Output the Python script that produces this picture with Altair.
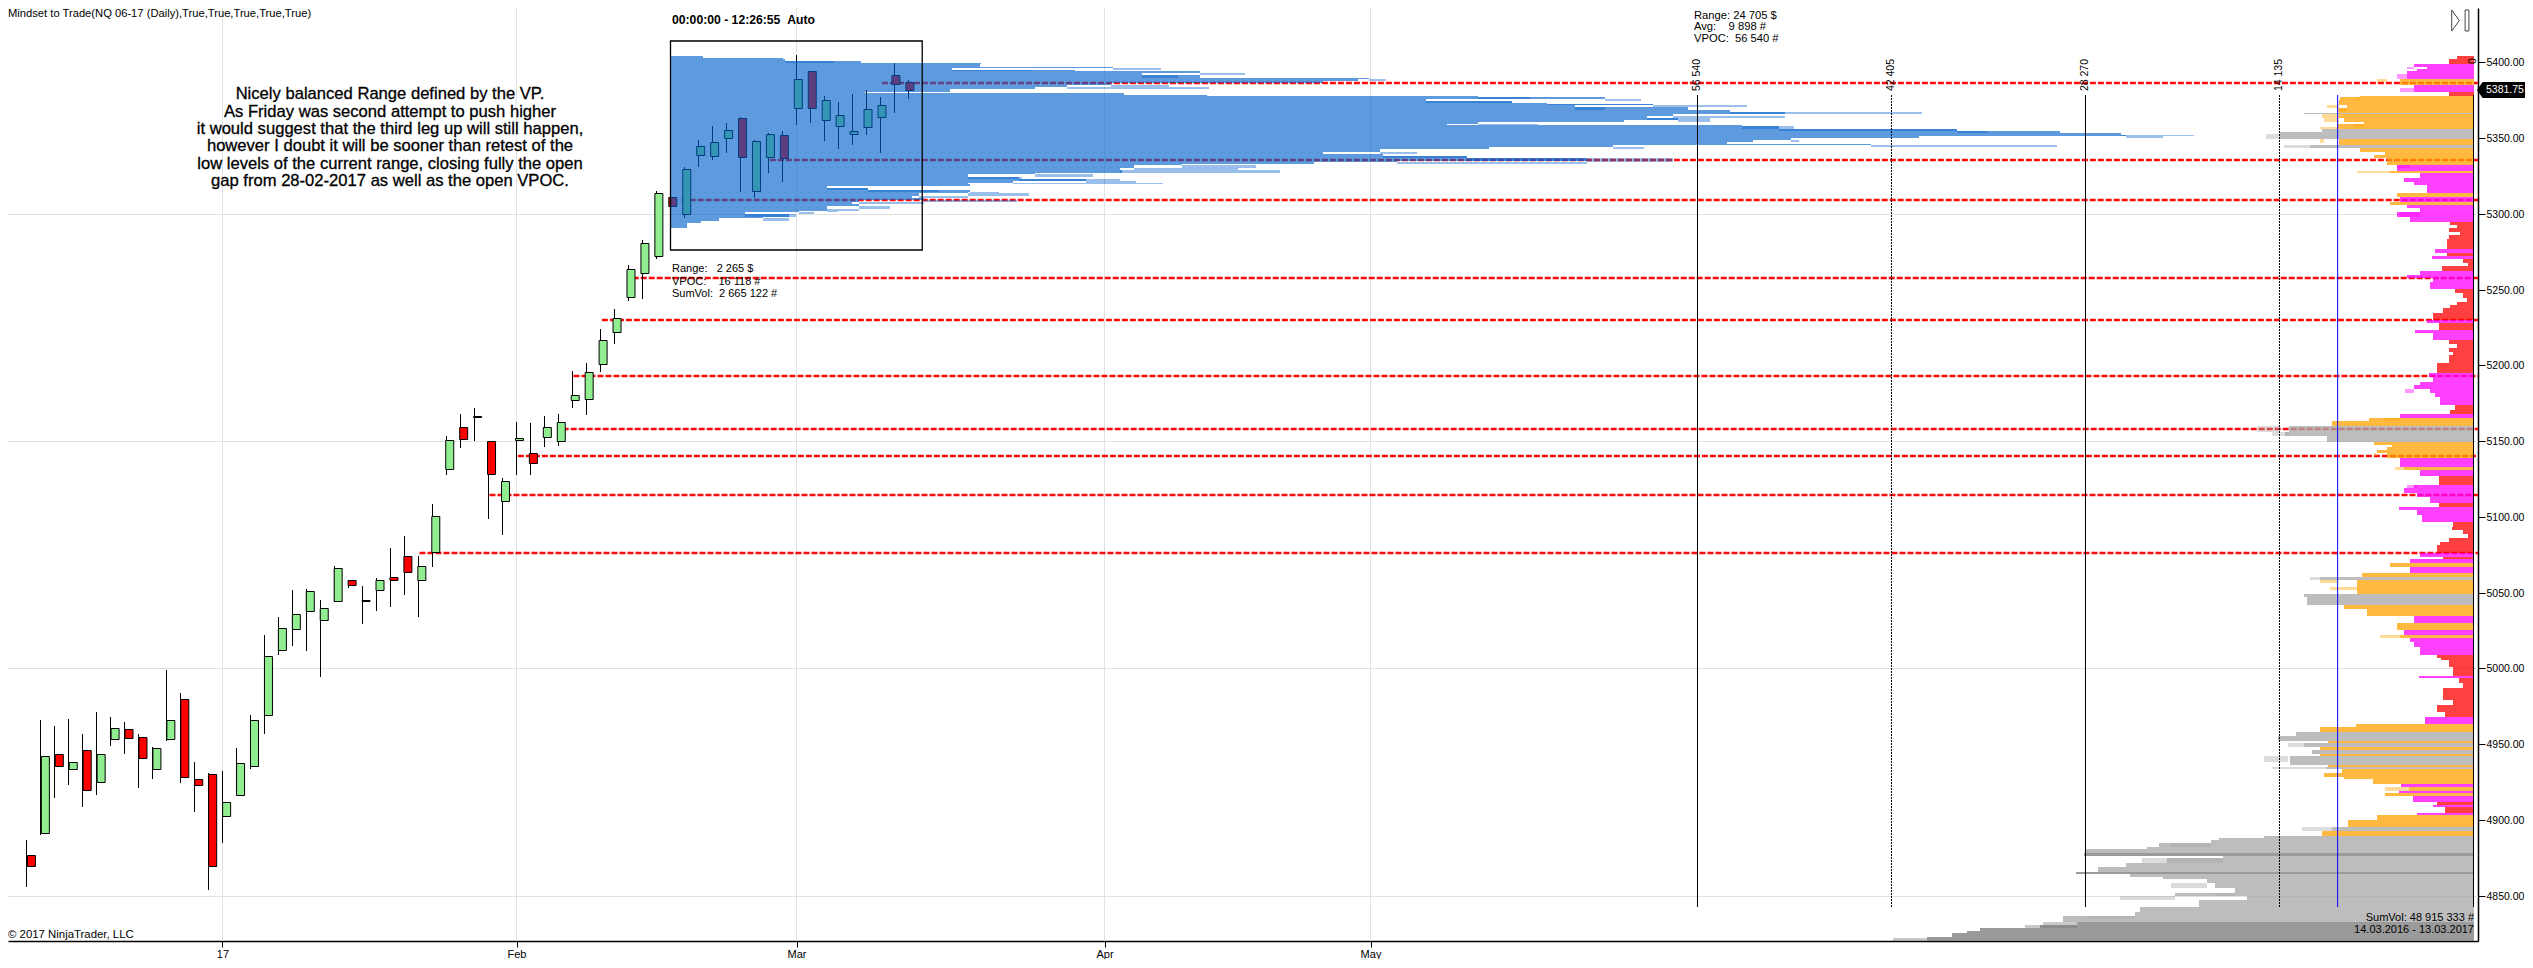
import altair as alt
import pandas as pd

# ---------- daily candles ----------
opens = [4876.5,4891.5,4943.25,4933.75,4946,4925.25,4953.5,4959.75,4955,4933.75,
         4953.5,4979.5,4926.75,4930,4902.25,4916.25,4935.75,4969.5,5012,5025.75,
         5037.75,5031.75,5044.75,5058,5044.25,5051.5,5060,5074,5058,5076.5,
         5131.5,5159,5166,5149.75,5110.25,5151,5142.25,5152.5,5149.75,5177,
         5177.5,5200.75,5221.75,5245,5260.75,5272.5,5311,5299.75,5338.75,5338,
         5350,5363,5315,5337.5,5352,5369.75,5394,5361.75,5357.75,5353,
         5357.25,5363.75,5392,5386.75]
highs = [4887,4966,4962,4966.5,4956.75,4971.25,4968,4964.5,4957,4948,
         4999,4983.75,4938.25,4930.75,4932.25,4947.5,4969.25,5022,5034,5051.75,
         5052.5,5045,5067.5,5058.25,5054.25,5059.5,5079.5,5087.25,5074,5108.5,
         5153.25,5168,5171.75,5149.75,5125.5,5162.75,5162,5166.5,5168,5196.25,
         5201.25,5223.75,5237.25,5266.25,5282.75,5315,5311.5,5330.75,5348.75,5358,
         5359.75,5363.75,5348.5,5353.25,5354.75,5405,5394,5377.75,5374,5379.25,
         5381.75,5377.25,5399.5,5388.25]
lows = [4856,4890,4914.75,4923,4908.75,4916.5,4948.75,4943.5,4921,4927,
        4952,4924.25,4905.25,4853.75,4885,4916.25,4933.75,4956.75,5008.75,5014.75,
        5011.5,4994.25,5043.75,5053,5029.25,5037.75,5040.5,5048.5,5034,5067,
        5127.75,5145.5,5150.25,5098.5,5087.75,5127.75,5127.75,5146,5146.75,5171.75,
        5167.25,5195.75,5214.25,5242.5,5243.75,5270.5,5305.25,5297.5,5331,5335.5,
        5340.25,5314.75,5310.5,5327,5321.25,5358.75,5360.25,5348,5343,5345.5,
        5352,5340.25,5366.75,5376]
closes = [4869.75,4942,4935.75,4938,4920,4943.25,4960.5,4954.25,4940.5,4947.25,
          4965.75,4928.5,4923.25,4869.75,4911.5,4937.25,4965.75,5008,5026.5,5035.75,
          5050.75,5039.75,5066,5054.75,5045,5058,5058,5063.5,5067.25,5100.25,
          5150.5,5151.25,5166.75,5128,5123.5,5151.75,5135.25,5159,5162.5,5180.25,
          5195.5,5216.5,5231,5263.5,5280.5,5313.5,5305.5,5329.5,5344.5,5347.25,
          5355.25,5337.5,5348,5352.5,5336.75,5388.75,5369.75,5375.5,5365,5354.5,
          5369,5371.75,5385.5,5381.75]

# ---------- open levels (dashed) ----------
level_price = [5386.25,5335.5,5309,5258,5229.75,5192.75,5157.75,5140,5114.25,5076]
level_start = [61.1,53.1,46.8,43.3,41.1,39.07,38.3,35.1,33.07,28.07]
level_end = 175.1

# ---------- composite profile at the right ----------
right_price = [5404.2,5402.0,5400.5,5399.0,5397.2,5395.4,5394.1,5392.4,5390.6,5389.0,
 5387.3,5385.1,5382.9,5380.7,5377.8,5376.9,5375.2,5371.9,5369.7,5367.5,
 5366.8,5365.9,5363.1,5360.9,5359.3,5357.6,5355.8,5354.3,5352.8,5349.2,
 5346.6,5345.3,5343.7,5341.1,5338.9,5336.7,5334.5,5332.3,5330.1,5328.3,
 5326.8,5323.5,5321.3,5319.1,5315.8,5313.6,5311.4,5309.2,5307.9,5305.9,
 5303.7,5301.5,5298.2,5296.4,5294.9,5292.7,5290.5,5288.3,5286.1,5283.2,
 5279.5,5276.6,5274.4,5272.2,5270.0,5267.4,5265.8,5264.1,5262.5,5259.7,
 5257.5,5255.3,5252.0,5250.2,5247.6,5244.3,5242.1,5239.9,5237.7,5234.4,
 5232.2,5230.0,5227.8,5224.5,5223.4,5221.2,5219.0,5216.8,5214.1,5211.3,
 5209.1,5206.9,5204.7,5201.4,5198.1,5194.8,5192.1,5189.3,5187.1,5184.2,
 5181.6,5179.4,5177.2,5173.9,5170.6,5168.4,5167.7,5165.5,5163.5,5161.8,
 5160.2,5156.3,5153.4,5151.2,5149.7,5147.5,5146.4,5144.2,5142.0,5140.2,
 5138.7,5135.4,5133.2,5131.0,5128.8,5127.0,5124.4,5121.1,5118.9,5115.6,
 5113.4,5111.2,5109.0,5106.8,5104.6,5101.3,5099.1,5096.9,5093.6,5091.4,
 5088.7,5085.9,5083.7,5081.5,5078.2,5076.4,5073.8,5072.0,5069.4,5067.2,
 5065.0,5062.8,5060.6,5058.4,5056.2,5054.0,5051.8,5048.9,5047.4,5044.1,
 5041.9,5039.0,5036.4,5034.6,5032.0,5029.8,5027.6,5025.4,5022.1,5019.9,
 5017.7,5014.4,5011.1,5008.9,5006.7,5005.5,5000.7,4997.8,4995.0,4993.6,
 4990.1,4986.8,4982.4,4979.1,4975.8,4971.4,4969.2,4967.7,4964.8,4963.1,
 4961.1,4959.3,4957.8,4955.4,4953.8,4952.3,4950.5,4948.3,4946.1,4943.5,
 4942.2,4938.4,4936.2,4934.7,4933.6,4930.7,4928.5,4926.8,4925.2,4923.5,
 4921.5,4919.3,4918.0,4915.8,4914.2,4912.0,4909.8,4908.3,4906.1,4904.3,
 4903.2,4899.9,4897.7,4895.1,4892.9,4891.1,4889.6,4887.8,4886.7,4884.5,
 4882.3,4880.6,4879.2,4877.9,4876.4,4874.6,4871.8,4869.1,4866.5,4865.4,
 4864.3,4862.5,4860.8,4858.1,4854.8,4852.0,4849.8,4847.1,4844.9,4842.3,
 4839.4,4836.7,4834.5,4832.3,4830.5,4828.4,4826.6,4825.0,4822.8,4821.7]
right_vol = [365,1215,1820,2920,4370,3400,4130,4860,4860,6320,
 5350,5100,4370,1820,5350,8260,9720,9840,9230,9840,
 12390,9840,9840,9480,8020,9960,12880,11060,14090,10940,
 9840,11910,9720,8260,6440,7290,6320,4620,5590,6080,
 4500,3890,5100,4370,3400,5590,4980,5350,6080,5350,
 4860,3890,5590,4620,2550,1700,1215,1820,970,1820,
 1940,2790,1940,3040,1940,730,365,2310,4250,3890,
 4860,2920,3160,1940,1340,730,490,1215,1700,2190,
 2920,3400,2310,2550,3160,4250,2920,2920,1820,1215,
 1820,1460,1820,1820,2670,5100,3280,2920,3890,4370,
 3160,2790,2430,2070,1340,1700,5350,5350,7650,10330,
 14090,13490,13730,10690,7780,7290,5950,6320,7050,6320,
 5470,5350,5100,5100,3890,1215,2550,4130,4370,5100,
 4130,3160,2550,3400,5470,4130,3770,2790,1460,1580,
 730,365,1820,2430,2670,3890,2190,4620,6080,5590,
 4620,8140,11180,9960,8500,8500,8500,11540,12390,12150,
 7290,9480,7780,5100,4370,5950,5590,5100,5350,5350,
 4620,4370,3890,2550,2670,2360,1770,1470,3980,1470,
 1030,740,2210,2210,1470,2650,2060,4270,3530,6480,
 8540,11190,11780,12960,14280,10600,12370,11190,11780,11190,
 13550,13400,10600,10750,10600,9570,10900,9420,7360,5300,
 4710,5450,6480,4710,4420,2650,2950,1910,2060,4120,
 7360,7070,9130,10310,10310,11040,13840,15310,18550,19140,
 22970,23850,28270,28420,25330,18260,22380,25330,27390,29000,
 27680,25030,22680,19440,18850,17370,21790,16490,20030,20030,
 24320,24690,29940,28920,28920,31620,36000,36950,38040,39860]
right_tip = [0,0,0,0,4860,0,0,5590,5590,7050,
 0,0,5350,0,0,8500,9840,10690,9960,0,
 0,11060,10940,0,8750,11180,0,0,15140,11180,
 0,13850,0,0,0,0,0,5590,0,8500,
 0,0,0,0,0,0,0,0,0,0,
 0,5350,0,0,0,0,0,0,0,0,
 0,0,0,0,0,0,0,0,0,0,
 0,0,0,0,0,0,0,0,0,0,
 0,0,0,0,0,0,0,0,0,0,
 0,0,0,0,0,0,0,0,0,4980,
 0,0,0,0,0,0,0,6440,0,0,
 15800,14700,0,0,0,0,0,0,7290,0,
 0,0,5710,0,0,0,0,4860,0,0,
 0,0,0,0,0,0,0,0,0,0,
 0,0,0,0,0,0,0,0,0,0,
 0,0,11910,11180,0,10450,0,0,0,0,
 0,0,0,0,0,0,0,0,6800,0,
 0,0,0,0,0,0,0,0,0,0,
 0,0,0,0,0,0,0,0,0,0,
 0,0,0,0,0,0,13550,0,0,0,
 15310,0,0,14725,0,0,0,0,0,0,
 6480,0,0,0,0,0,0,0,0,0,
 0,0,0,12520,0,0,0,0,0,22090,
 0,0,0,0,0,24150,0,0,0,0,
 0,0,0,22090,0,18850,25770,0,0,0,
 0,28190,0,31400,32710,0,0,0,0,42340]
right_kind = list("rrrmmmmmmo" "ommroooooo" "gooooogggo" "ogooooommo" "mmmmmommom"
                  "mmmmrrrrrr" "rmrmrrrrmm" "mmmrrrrrrr" "rmrrmmmrrr" "rrrrrmmmmm"
                  "mmmrrrmooo" "ggggoooooo" "mmommrrmmm" "mmrmmmmrrr" "rrrrrmrmom"
                  "mogooooggg" "ooommoomom" "mmmrrrrrmr" "rrrrrrrmmo" "oogggogogo"
                  "ggogooooom" "omommrmrrm" "ooogoogggg" "gggdgggggd" "gggggggggg"
                  "gggddddddd")

# ---------- session profile inside the box ----------
blue_price = [5404.2,5402.7,5402.0,5400.7,5399.4,5398.7,5397.2,5396.5,5395.2,5394.3,
 5392.8,5391.5,5389.9,5389.3,5387.7,5386.6,5385.3,5384.0,5382.2,5380.7,
 5380.0,5378.5,5377.8,5376.9,5375.6,5374.3,5373.4,5372.6,5371.7,5370.4,
 5368.6,5367.3,5365.9,5364.6,5363.3,5362.0,5360.7,5359.6,5358.5,5358.0,
 5356.0,5354.7,5353.4,5352.3,5351.4,5349.9,5348.8,5347.7,5346.4,5345.7,
 5344.2,5342.8,5341.1,5339.5,5338.4,5336.7,5335.1,5334.0,5332.9,5332.3,
 5330.5,5329.0,5327.2,5326.3,5324.6,5322.8,5321.7,5320.6,5319.5,5318.4,
 5316.9,5315.8,5314.7,5313.6,5312.0,5310.5,5309.2,5307.9,5306.6,5305.2,
 5303.5,5302.1,5301.0,5299.7,5298.2,5297.1,5295.5,5294.2,5292.7]
blue_vol = [430,340,1190,1210,2015,3280,3270,4680,2980,4280,
 5600,4990,5600,7390,7270,6900,4660,4190,3860,2960,
 2060,4800,5670,8540,9880,7990,8900,9270,10390,9570,
 10760,11210,11790,10600,10330,10660,10090,8540,8210,11330,
 11730,13610,14700,15340,15400,13210,11850,11450,11180,12700,
 9970,8660,7510,6900,7540,8420,9690,7690,6810,5410,
 4900,4750,4780,3860,3150,3690,4400,3620,3150,3170,
 1660,2090,3170,3150,2630,2560,2680,1990,1920,1990,
 1660,1660,1360,790,1250,980,510,320,180]
blue_tip = [0,0,0,1730,0,0,0,5190,3830,0,
 6075,5370,0,7570,0,0,5270,5700,0,0,
 0,0,0,9090,10270,8900,0,10390,11390,9880,
 0,13240,0,11790,11000,11000,0,9180,0,11880,
 13610,13940,0,16118,15790,0,11940,0,0,14670,
 10300,0,7900,0,8420,10600,10600,9690,0,6190,
 6000,6450,0,4470,3720,4750,4920,5210,0,0,
 2090,2840,3480,3790,3150,0,3670,2680,0,2320,
 1990,1770,1520,1330,0,1250,0,0,0]

# ---------- reference levels of the composite profile ----------
vline_vol = [56540,42405,28270,14135,0]
vline_text = ["56 540","42 405","28 270","14 135","0"]
vline_dash = ["solid","dash","solid","dash","solid"]
avg_vol = 9898

grid_x = [14,35,55,77,96]
grid_x_labels = ["17","Feb","Mar","Apr","May"]
grid_y = [5300,5150,5000,4850]
ticks_y = [5400,5350,5300,5250,5200,5150,5100,5050,5000,4950,4900,4850]

note_lines = ["Nicely balanced Range defined by the VP.",
              "As Friday was second attempt to push higher",
              "it would suggest that the third leg up will still happen,",
              "however I doubt it will be sooner than retest of the",
              "low levels of the current range, closing fully the open",
              "gap from 28-02-2017 as well as the open VPOC."]
box_lines = ["Range:\u00a0\u00a0\u00a02 265 $","VPOC:\u00a0\u00a0\u00a0\u00a016 118 #","SumVol:\u00a0\u00a02 665 122 #"]
top_lines = ["Range: 24 705 $","Avg:\u00a0\u00a0\u00a0\u00a09 898 #","VPOC:\u00a0\u00a056 540 #"]
sum_lines = ["SumVol: 48 915 333 #","14.03.2016 - 13.03.2017"]

# ---------- sizes ----------
W, H = 2470, 933
FONT = "Liberation Sans"
Y_SCALE = alt.Scale(domain=[4820.03, 5435.9], nice=False, zero=False, round=True)
IDX = alt.Scale(domain=[-1.3214, 175.107], nice=False, zero=False)
RVOL = alt.Scale(domain=[179832, -328], nice=False, zero=False, round=True)
RLINE = alt.Scale(domain=[179638, -327.9], nice=False, zero=False)
BVOL = alt.Scale(domain=[-7006, 19118], nice=False, zero=False, round=True)
Y_AXIS = alt.Axis(orient="right", values=ticks_y, format=".2f", grid=False, title=None, domainColor="#000000",
                  domainWidth=1.5, tickColor="#000000", tickSize=7, labelFont=FONT, labelFontSize=10.5,
                  labelColor="#000000", labelPadding=1)

# ---------- tables ----------
candles = pd.DataFrame({"i": range(len(opens)), "o": opens, "h": highs, "l": lows, "c": closes})
candles["dir"] = ["up" if c >= o else "down" for o, c in zip(opens, closes)]

right = pd.DataFrame({"top": right_price, "vol": right_vol, "tip": right_tip, "kind": right_kind})
right["bot"] = right_price[1:] + [4820.03]
blue = pd.DataFrame({"top": blue_price, "vol": blue_vol, "tip": blue_tip})
blue["bot"] = blue_price[1:] + [5291.0]

# profile outlines: one shape per run of rows of the same colour, so no seams appear between rows
blue_shape = pd.DataFrame({"p": blue_price + [5291.0], "vol": blue_vol + [blue_vol[-1]], "zero": 0})
shape_rows = []
run = 0
for k in range(len(right_price)):
    if k and right_kind[k] != right_kind[k - 1]:
        run += 1
    shape_rows.append({"p": right_price[k], "vol": right_vol[k], "kind": right_kind[k], "run": run, "zero": 0})
    if k == len(right_price) - 1 or right_kind[k + 1] != right_kind[k]:
        shape_rows.append({"p": right["bot"].iloc[k], "vol": right_vol[k], "kind": right_kind[k], "run": run, "zero": 0})
right_shape = pd.DataFrame(shape_rows)

levels = pd.DataFrame({"p": level_price, "s": level_start, "e": [level_end] * len(level_price)})
vlines = pd.DataFrame({"v": vline_vol, "t": vline_text, "d": vline_dash,
                       "top": [5378.5] * 5, "bot": [4842.7] * 5, "lab": [5393.3] * 4 + [5402.4]})

KINDS = ["r", "m", "o", "g", "d"]
KCOL = ["#ff0000", "#ff00ff", "#ffa200", "#a7a7a7", "#787878"]
kscale = alt.Scale(domain=KINDS, range=KCOL)

def ychan(f):
    return alt.Y(f, type="quantitative", scale=Y_SCALE, axis=Y_AXIS, title=None)

def ptext(text, x, y, size, align="left", weight="normal", color="#000000", stroke=0):
    kw = dict(stroke=color, strokeWidth=stroke) if stroke else {}
    return alt.Chart(pd.DataFrame({"t": [text]})).mark_text(
        align=align, baseline="middle", font=FONT, fontSize=size, fontWeight=weight, color=color, **kw
    ).encode(x=alt.value(x - 8), y=alt.value(y - 8), text="t:N")

labexpr = "".join(f"datum.value=={v}?'{t}':" for v, t in zip(grid_x, grid_x_labels)) + "''"

grid_v = alt.Chart(pd.DataFrame({"x": grid_x})).mark_rule(color="#e2e2e2", strokeWidth=1).encode(
    x=alt.X("x:Q", scale=IDX, title=None,
            axis=alt.Axis(values=grid_x, labelExpr=labexpr, grid=False, title=None, domainColor="#000000",
                          domainWidth=1.5, tickColor="#000000", tickSize=6, labelFont=FONT, labelFontSize=11,
                          labelColor="#000000", labelPadding=1, labelFlush=False)))
grid_h = alt.Chart(pd.DataFrame({"y": grid_y})).mark_rule(color="#e2e2e2", strokeWidth=1, yOffset=0.5).encode(
    y=ychan("y"))

level_rule = alt.Chart(levels).mark_rule(color="#ff0a0a", strokeWidth=2.5, strokeDash=[6, 2]).encode(
    x=alt.X("s:Q", scale=IDX, axis=None), x2="e:Q", y=ychan("p"))

wicks = alt.Chart(candles).mark_rule(color="#000000", strokeWidth=1).encode(
    x=alt.X("i:Q", scale=IDX, axis=None), y=ychan("l"), y2="h:Q")
bodies = alt.Chart(candles).mark_bar(size=8, stroke="#000000", strokeWidth=1, orient="vertical",
                                     yOffset=0.5, y2Offset=0.5).encode(
    x=alt.X("i:Q", scale=IDX, axis=None), y=ychan("o"), y2="c:Q",
    color=alt.Color("dir:N", legend=None, scale=alt.Scale(domain=["up", "down"], range=["#90ee90", "#ff0000"])))

blue_main = alt.Chart(blue_shape).mark_area(color="#0060cb", opacity=0.63, orient="horizontal",
                                            interpolate="step-after").encode(
    x=alt.X("vol:Q", scale=BVOL, axis=None, stack=None), x2="zero:Q", y=ychan("p"))
blue_tips = alt.Chart(blue[blue.tip > 0]).mark_rect(color="#0060cb", opacity=0.4).encode(
    x=alt.X("vol:Q", scale=BVOL, axis=None), x2="tip:Q", y=ychan("top"), y2="bot:Q")

box = alt.Chart(pd.DataFrame({"a": [46.0], "b": [63.98], "t": [5414.35], "u": [5276.17]})).mark_rect(
    fillOpacity=0, stroke="#000000", strokeWidth=1.3).encode(
    x=alt.X("a:Q", scale=IDX, axis=None), x2="b:Q", y=ychan("t"), y2="u:Q")

right_main = alt.Chart(right_shape).mark_area(opacity=0.75, orient="horizontal", interpolate="step-after").encode(
    x=alt.X("vol:Q", scale=RVOL, axis=None, stack=None), x2="zero:Q", y=ychan("p"),
    color=alt.Color("kind:N", scale=kscale, legend=None), detail="run:N")
right_tips = alt.Chart(right[right.tip > 0]).mark_rect(opacity=0.4).encode(
    x=alt.X("vol:Q", scale=RVOL, axis=None), x2="tip:Q", y=ychan("top"), y2="bot:Q",
    color=alt.Color("kind:N", scale=kscale, legend=None))

solid = alt.Chart(vlines[vlines.d == "solid"]).mark_rule(color="#000000", strokeWidth=1).encode(
    x=alt.X("v:Q", scale=RLINE, axis=None), y=ychan("top"), y2="bot:Q")
dash = alt.Chart(vlines[vlines.d == "dash"]).mark_rule(color="#000000", strokeWidth=1, strokeDash=[2, 1]).encode(
    x=alt.X("v:Q", scale=RLINE, axis=None), y=ychan("top"), y2="bot:Q")
avg = alt.Chart(pd.DataFrame({"v": [avg_vol], "top": [5378.5], "bot": [4842.7]})).mark_rule(
    color="#0000ff", strokeWidth=1).encode(x=alt.X("v:Q", scale=RLINE, axis=None), y=ychan("top"), y2="bot:Q")
vlabels = alt.Chart(vlines).mark_text(angle=270, baseline="middle", align="center", font=FONT, fontSize=10.5,
                                      dx=-2, color="#000000").encode(
    x=alt.X("v:Q", scale=RLINE, axis=None), y=ychan("lab"), text="t:N")

layers = [grid_v, grid_h, level_rule, wicks, bodies, blue_main, blue_tips, box,
          right_main, right_tips, solid, dash, avg, vlabels]

layers.append(ptext("Mindset to Trade(NQ 06-17 (Daily),True,True,True,True,True)", 8, 14, 11.2))
for line, yy in zip(note_lines, [94, 112, 129, 146, 164, 181]):
    layers.append(ptext(line, 390, yy, 16.6, align="center", stroke=0.3))
layers.append(ptext("00:00:00 - 12:26:55\u00a0\u00a0Auto", 672, 20, 12.2, weight="bold"))
for line, yy in zip(box_lines, [269, 282, 294]):
    layers.append(ptext(line, 672, yy, 11))
for line, yy in zip(top_lines, [16, 27, 39]):
    layers.append(ptext(line, 1694, yy, 11.2))
for line, yy in zip(sum_lines, [918, 930]):
    layers.append(ptext(line, 2474, yy, 11, align="right"))
layers.append(ptext("\u00a9 2017 NinjaTrader, LLC", 8, 935, 11.4))

# last price tag
tag = alt.Chart(pd.DataFrame({"p": [closes[-1]]}))
layers.append(tag.mark_point(shape="M-3,0L-2.3,-1L3,-1L3,1L-2.3,1Z", size=256, filled=True, opacity=1, color="#000000")
              .encode(x=alt.value(2501 - 8), y=ychan("p")))
layers.append(tag.mark_text(text="5381.75", align="left", baseline="middle", font=FONT, fontSize=10.5, color="#ffffff")
              .encode(x=alt.value(2486 - 8), y=ychan("p")))
# play-to-end icon
icon = alt.Chart(pd.DataFrame({"a": [0]}))
layers.append(icon.mark_point(shape="M-0.36,-1L0.36,0L-0.36,1Z", size=441, filled=False, stroke="#444444", strokeWidth=1, opacity=1)
              .encode(x=alt.value(2455.5 - 8), y=alt.value(20.5 - 8)))
layers.append(icon.mark_point(shape="M-0.18,-1L0.18,-1L0.18,1L-0.18,1Z", size=441, filled=False, stroke="#444444", strokeWidth=1, opacity=1)
              .encode(x=alt.value(2467 - 8), y=alt.value(20.5 - 8)))

chart = alt.layer(*layers).resolve_scale(x="independent", color="independent").properties(
    width=W, height=H, autosize=alt.AutoSizeParams(type="none"),
    padding={"left": 0, "top": 0, "right": 47, "bottom": 18},
    background="#ffffff",
).configure_view(stroke=None)

chart.save("out.html", embed_options={"renderer": "svg", "actions": False})
